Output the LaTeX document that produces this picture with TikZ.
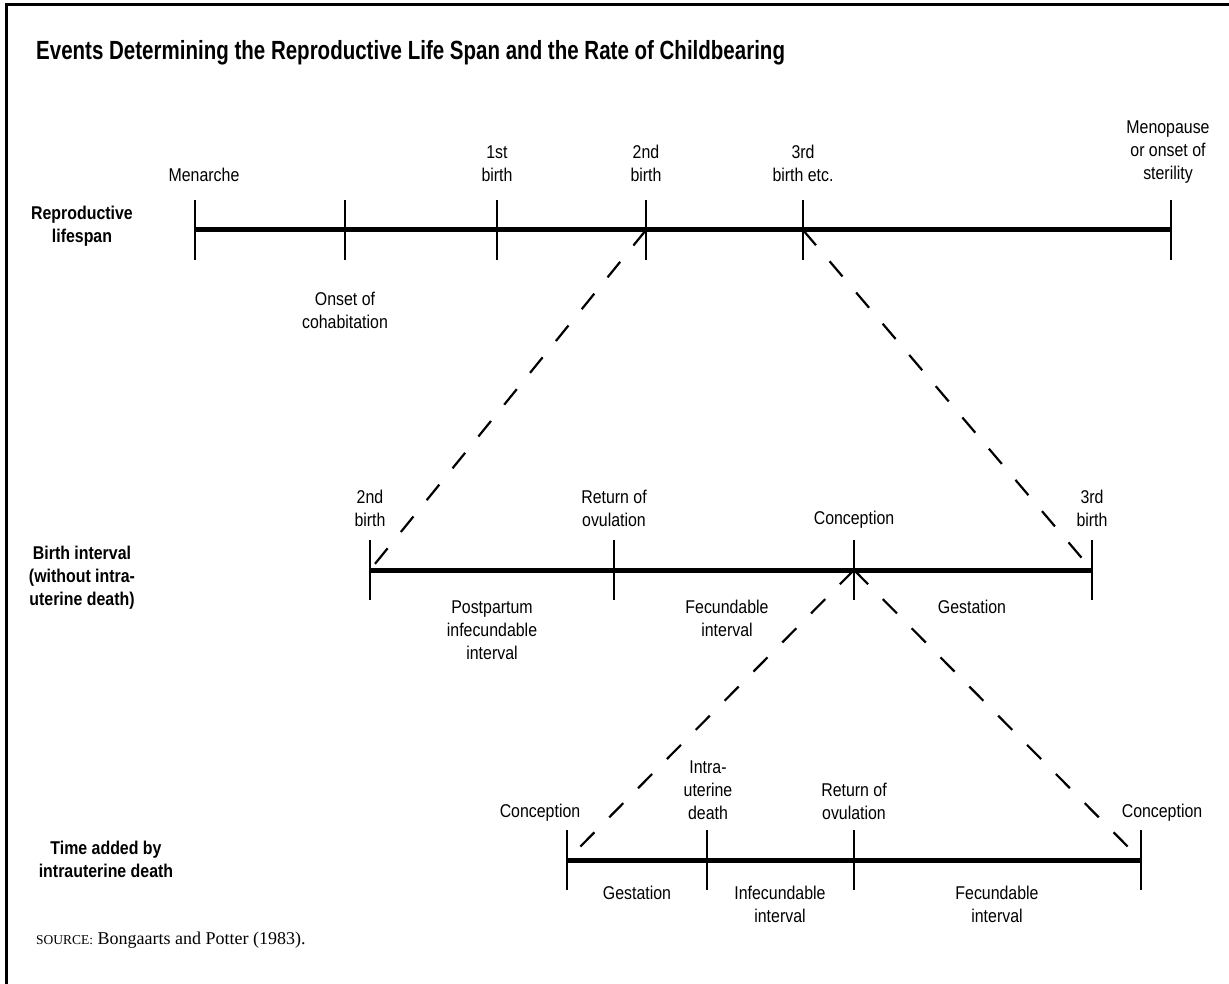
\documentclass[tikz,border=0pt]{standalone}
\usepackage{fontspec}
\setmainfont{Liberation Serif}
\newfontfamily\lblfont[FakeStretch=0.86]{Liberation Sans}
\newfontfamily\headfont[FakeStretch=0.78]{Liberation Sans}
\begin{document}
\begin{tikzpicture}[x=1pt,y=-1pt,
  axisline/.style={line width=5pt},
  ticksty/.style={line width=2.6pt},
  link/.style={line width=2.2pt, dash pattern=on 20pt off 21pt},
  lbl/.style={font=\lblfont\fontsize{18.5}{23}\selectfont, align=center, inner sep=0pt},
  side/.style={font=\lblfont\bfseries\fontsize{18.5}{23}\selectfont, align=center, inner sep=0pt},
  frame/.style={line width=3pt}]
\useasboundingbox (0,0) rectangle (1229,984);
% outer frame (top and left edges only)
\draw[frame] (6,984) -- (6,5) -- (1229,5);

% title
\node[font=\headfont\bfseries\fontsize{26.3}{30}\selectfont, anchor=west, inner sep=0pt] (title) at (36,53)
  {Events Determining the Reproductive Life Span and the Rate of Childbearing};

% ---------- reproductive lifespan ----------
\coordinate (r0) at (195,230);
\coordinate (r1) at (345,230);
\coordinate (r2) at (497,230);
\coordinate (r3) at (646,230);
\coordinate (r4) at (803,230);
\coordinate (r5) at (1171,230);
\draw[axisline] (r0) -- (r5);
\foreach \p in {r0,r1,r2,r3,r4,r5}
  \draw[ticksty] ([yshift=30pt]\p) -- ([yshift=-30pt]\p);

\node[side] (rl) at (82,226.5) {Reproductive\\lifespan};
\node[lbl] (menarche) at (204,175) {Menarche};
\node[lbl] (b1) at (497,163.5) {1st\\birth};
\node[lbl] (b2) at (646,163.5) {2nd\\birth};
\node[lbl] (b3) at (803,163.5) {3rd\\birth etc.};
\node[lbl] (meno) at (1168,152) {Menopause\\or onset of\\sterility};
\node[lbl] (cohab) at (345,310.5) {Onset of\\cohabitation};

% ---------- birth interval ----------
\coordinate (m0) at (370,570);
\coordinate (m1) at (614,570);
\coordinate (m2) at (854,570);
\coordinate (m3) at (1092,570);
\draw[axisline] (m0) -- (m3);
\foreach \p in {m0,m1,m2,m3}
  \draw[ticksty] ([yshift=30pt]\p) -- ([yshift=-30pt]\p);

\node[side] (bi) at (82,578) {Birth interval\\(without intra-\\uterine death)};
\node[lbl] (mb2) at (370,508.5) {2nd\\birth};
\node[lbl] (mret) at (614,508.5) {Return of\\ovulation};
\node[lbl] (mcon) at (854,520) {Conception};
\node[lbl] (mb3) at (1092,508.5) {3rd\\birth};
\node[lbl] (mpp) at (492,630) {Postpartum\\infecundable\\interval};
\node[lbl] (mfec) at (727,618.5) {Fecundable\\interval};
\node[lbl] (mges) at (972,607) {Gestation};

% ---------- time added by intrauterine death ----------
\coordinate (t0) at (567,860);
\coordinate (t1) at (707,860);
\coordinate (t2) at (854,860);
\coordinate (t3) at (1141,860);
\draw[axisline] (t0) -- (t3);
\foreach \p in {t0,t1,t2,t3}
  \draw[ticksty] ([yshift=30pt]\p) -- ([yshift=-30pt]\p);

\node[side] (ta) at (106,859.5) {Time added by\\intrauterine death};
\node[lbl] (tc0) at (540,813) {Conception};
\node[lbl] (tiu) at (708,790) {Intra-\\uterine\\death};
\node[lbl] (tret) at (854,801.5) {Return of\\ovulation};
\node[lbl] (tc1) at (1162,813) {Conception};
\node[lbl] (tges) at (637,893) {Gestation};
\node[lbl] (tinf) at (780,904.5) {Infecundable\\interval};
\node[lbl] (tfec) at (997,904.5) {Fecundable\\interval};

% ---------- dashed zoom lines ----------
\draw[link] (r3) -- (m0);
\draw[link] (r4) -- (m3);
\draw[link] (m2) -- (t0);
\draw[link] (m2) -- (t3);

% source line
\node[anchor=west, inner sep=0pt, font=\fontsize{18}{21}\selectfont] (src) at (36,940)
  {{\fontsize{13.5}{16}\selectfont SOURCE:}\ Bongaarts and Potter (1983).};
\end{tikzpicture}
\end{document}
